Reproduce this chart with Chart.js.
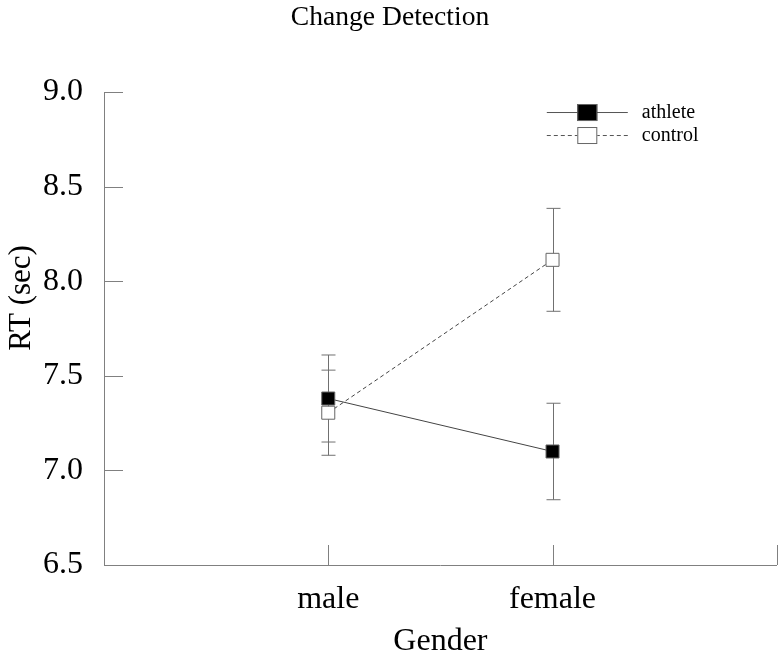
<!DOCTYPE html>
<html>
<head>
<meta charset="utf-8">
<script src="https://cdn.jsdelivr.net/npm/chart.js@4"></script>
<style>
  html, body { margin: 0; padding: 0; background: #fff; overflow: hidden; }
  #wrap { width: 787px; height: 658px; }
</style>
</head>
<body>
<div id="wrap"><canvas id="chart"></canvas></div>
<script>
// categorias del eje x y sus posiciones
const categories = ['male', 'female'];
const catPos = [1, 2];
// tiempos de reaccion (seg) y error
const athleteRT = [7.38, 7.10];
const athleteErr = [0.23, 0.255];
const controlRT = [7.305, 8.113];
const controlErr = [0.225, 0.272];
// ticks del eje y
const yTicks = [6.5, 7.0, 7.5, 8.0, 8.5, 9.0];

const FONT = "'Liberation Serif', 'Times New Roman', serif";
const AXIS = '#808080';

function toPoints(vals) {
    return vals.map((v, i) => ({ x: catPos[i], y: v }));
}

// barras de error, ticks hacia adentro, titulo del eje y y leyenda
const extras = {
    id: 'extras',
    beforeDatasetsDraw(chart) {
        const ctx = chart.ctx;
        const xs = chart.scales.x, ys = chart.scales.y;
        const sets = [[athleteRT, athleteErr], [controlRT, controlErr]];
        ctx.save();
        ctx.strokeStyle = '#707070';
        ctx.lineWidth = 1;
        sets.forEach(([vals, errs]) => {
            vals.forEach((v, i) => {
                const px = Math.round(xs.getPixelForValue(catPos[i])) + 0.5;
                const top = ys.getPixelForValue(v + errs[i]);
                const bot = ys.getPixelForValue(v - errs[i]);
                ctx.beginPath();
                ctx.moveTo(px, top); ctx.lineTo(px, bot);
                ctx.moveTo(px - 7, top); ctx.lineTo(px + 7, top);
                ctx.moveTo(px - 7, bot); ctx.lineTo(px + 7, bot);
                ctx.stroke();
            });
        });
        // ticks hacia adentro
        ctx.strokeStyle = AXIS;
        const area = chart.chartArea;
        yTicks.forEach(t => {
            const py = Math.round(ys.getPixelForValue(t)) + 0.5;
            ctx.beginPath();
            ctx.moveTo(area.left, py); ctx.lineTo(area.left + 19, py);
            ctx.stroke();
        });
        [1, 2, 3].forEach(t => {
            const px = Math.round(xs.getPixelForValue(t)) + 0.5;
            ctx.beginPath();
            ctx.moveTo(px, area.bottom); ctx.lineTo(px, area.bottom - 20);
            ctx.stroke();
        });
        ctx.restore();
    },
    afterDraw(chart) {
        const ctx = chart.ctx;
        const area = chart.chartArea;
        ctx.save();
        // titulo del eje y
        ctx.translate(22, 298);
        ctx.rotate(-Math.PI / 2);
        ctx.font = '31px ' + FONT;
        ctx.fillStyle = '#000';
        ctx.textAlign = 'center';
        ctx.textBaseline = 'middle';
        ctx.fillText('RT (sec)', 0, 0);
        ctx.restore();

        // leyenda
        ctx.save();
        const x0 = area.right - 230, x1 = area.right - 149, cx = (x0 + x1) / 2;
        const items = [
            { label: 'athlete', y: area.top + 20, fill: '#000', dash: [] },
            { label: 'control', y: area.top + 43, fill: '#fff', dash: [4, 3] }
        ];
        items.forEach(it => {
            ctx.strokeStyle = '#555';
            ctx.lineWidth = 1;
            ctx.setLineDash(it.dash);
            ctx.beginPath();
            ctx.moveTo(x0, it.y + 0.5); ctx.lineTo(x1, it.y + 0.5);
            ctx.stroke();
            ctx.setLineDash([]);
            ctx.fillStyle = it.fill;
            ctx.fillRect(cx - 10, it.y - 8, 20, 17);
            ctx.strokeStyle = '#666';
            ctx.strokeRect(cx - 9.5, it.y - 7.5, 19, 16);
            ctx.fillStyle = '#000';
            ctx.font = '20px ' + FONT;
            ctx.textAlign = 'left';
            ctx.textBaseline = 'middle';
            ctx.fillText(it.label, x1 + 14, it.y + 1);
        });
        ctx.restore();
    }
};

new Chart(document.getElementById('chart'), {
    type: 'line',
    data: {
        datasets: [
            {
                label: 'control',
                data: toPoints(controlRT),
                borderColor: '#444',
                borderWidth: 1,
                borderDash: [4, 3],
                pointStyle: 'rect',
                pointRadius: 9.2,
                pointBackgroundColor: '#fff',
                pointBorderColor: '#666',
                pointBorderWidth: 1
            },
            {
                label: 'athlete',
                data: toPoints(athleteRT),
                borderColor: '#444',
                borderWidth: 1,
                pointStyle: 'rect',
                pointRadius: 9.2,
                pointBackgroundColor: '#000',
                pointBorderColor: '#666',
                pointBorderWidth: 1
            }
        ]
    },
    options: {
        responsive: true,
        maintainAspectRatio: false,
        animation: false,
        layout: { padding: { left: 0, right: 7, top: 0, bottom: 0 } },
        plugins: {
            legend: { display: false },
            tooltip: { enabled: false },
            title: {
                display: true,
                text: 'Change Detection',
                color: '#000',
                font: { family: FONT, size: 27.6, weight: 'normal' },
                padding: { top: 1, bottom: 57.9 }
            }
        },
        scales: {
            x: {
                type: 'linear',
                min: 0,
                max: 3,
                afterFit: s => { s.height = 93; s.paddingRight = 0; },
                grid: { display: false },
                border: { display: true, color: AXIS, width: 1 },
                ticks: {
                    stepSize: 1,
                    color: '#000',
                    padding: 7,
                    font: { family: FONT, size: 32 },
                    callback: v => categories[catPos.indexOf(v)] || ''
                },
                title: {
                    display: true,
                    text: 'Gender',
                    color: '#000',
                    font: { family: FONT, size: 32, lineHeight: 1.0 },
                    padding: { top: 0, bottom: 0 }
                }
            },
            y: {
                min: 6.5,
                max: 9.0,
                afterFit: s => { s.width = 104; },
                afterBuildTicks: s => { s.ticks = yTicks.map(v => ({ value: v })); },
                grid: { display: false },
                border: { display: true, color: AXIS, width: 1 },
                ticks: {
                    color: '#000',
                    padding: 13,
                    font: { family: FONT, size: 32 },
                    callback: v => v.toFixed(1)
                }
            }
        }
    },
    plugins: [extras]
});
</script>
</body>
</html>
